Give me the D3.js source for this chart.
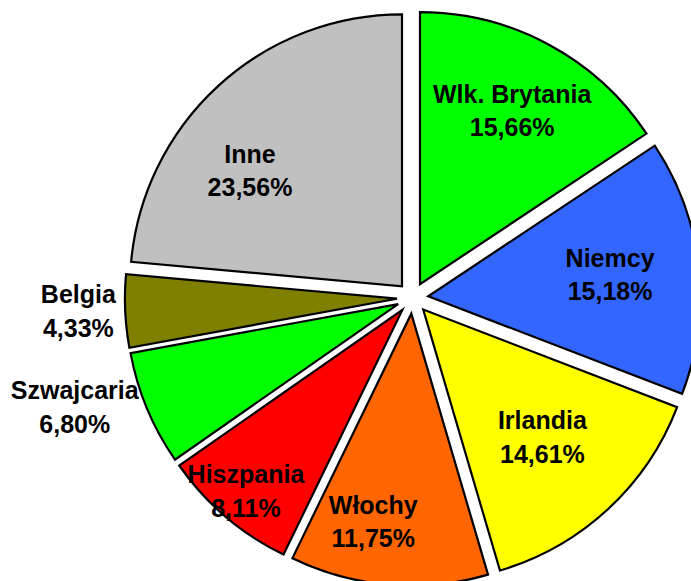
<!DOCTYPE html>
<html>
<head>
<meta charset="utf-8">
<script src="https://cdn.jsdelivr.net/npm/d3@7"></script>
<style>
  html, body { margin: 0; padding: 0; background: #fff; }
  svg { display: block; }
</style>
</head>
<body>
<svg id="chart" width="691" height="581"></svg>
<script>
// Data
const categories = ["Wlk. Brytania", "Niemcy", "Irlandia", "Włochy", "Hiszpania", "Szwajcaria", "Belgia", "Inne"];
const values = [15.66, 15.18, 14.61, 11.75, 8.11, 6.80, 4.33, 23.56];
const valueLabels = ["15,66%", "15,18%", "14,61%", "11,75%", "8,11%", "6,80%", "4,33%", "23,56%"];

// Styles / layout
const colors = ["#00FF00", "#3366FF", "#FFFF00", "#FF6600", "#FF0000", "#00FF00", "#808000", "#C0C0C0"];
// label placement: polar [angle in degrees clockwise from top, radius] from pie centre
const labelPolar = [[29.2, 204], [85.9, 198], [138.8, 197], [189.6, 236], [219.5, 262], [250.7, 358], [266.2, 335], [306.0, 201]];

const W = 691, H = 581;
const cx = 412.6, cy = 298, R = 272, explode = 15.7;

const svg = d3.select("#chart");
const g = svg.append("g").attr("transform", `translate(${cx},${cy})`);

const pie = d3.pie().sort(null).value(d => d.v);
const arcs = pie(values.map((v, i) => ({ v, i })));
const arc = d3.arc().innerRadius(0).outerRadius(R);

g.selectAll("path.slice")
  .data(arcs)
  .join("path")
  .attr("class", "slice")
  .attr("d", arc)
  .attr("fill", d => colors[d.data.i])
  .attr("stroke", "#000")
  .attr("stroke-width", 2.2)
  .attr("stroke-linejoin", "miter")
  .attr("transform", d => {
    const m = (d.startAngle + d.endAngle) / 2;
    return `translate(${explode * Math.sin(m)},${-explode * Math.cos(m)})`;
  });

const labels = g.selectAll("g.lbl")
  .data(arcs)
  .join("g")
  .attr("class", "lbl")
  .attr("transform", d => {
    const [a, r] = labelPolar[d.data.i];
    const rad = a * Math.PI / 180;
    return `translate(${r * Math.sin(rad)},${-r * Math.cos(rad)})`;
  });

labels.append("text")
  .attr("text-anchor", "middle")
  .attr("y", -17)
  .attr("font-family", "'Liberation Sans', Arial, sans-serif")
  .attr("font-weight", "bold")
  .attr("font-size", 25)
  .attr("fill", "#000")
  .text(d => categories[d.data.i]);

labels.append("text")
  .attr("text-anchor", "middle")
  .attr("y", 16.5)
  .attr("font-family", "'Liberation Sans', Arial, sans-serif")
  .attr("font-weight", "bold")
  .attr("font-size", 25)
  .attr("fill", "#000")
  .text(d => valueLabels[d.data.i]);
</script>
</body>
</html>
